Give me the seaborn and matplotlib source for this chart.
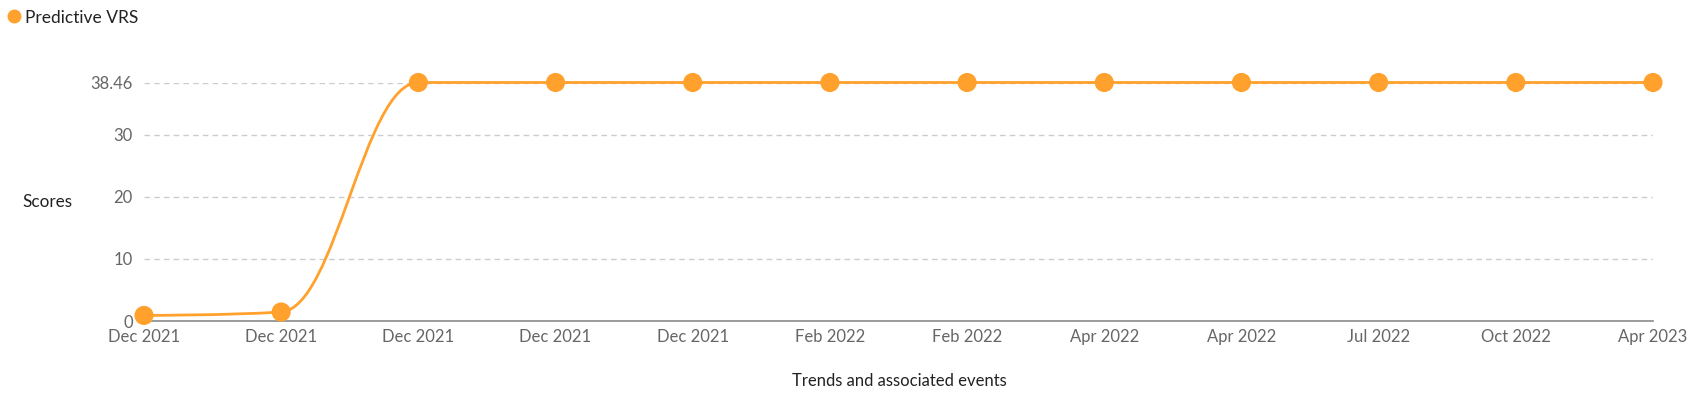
import numpy as np
import pandas as pd
import matplotlib
matplotlib.use("Agg")
import matplotlib.pyplot as plt
from matplotlib.path import Path
from matplotlib.patches import PathPatch
from matplotlib.lines import Line2D
import seaborn as sns

# ---- data ----
tick_labels = ["Dec 2021", "Dec 2021", "Dec 2021", "Dec 2021", "Dec 2021",
               "Feb 2022", "Feb 2022", "Apr 2022", "Apr 2022", "Jul 2022",
               "Oct 2022", "Apr 2023"]
scores = [0.9, 1.45, 38.46, 38.46, 38.46, 38.46, 38.46, 38.46, 38.46, 38.46, 38.46, 38.46]
series_name = "Predictive VRS"
y_ticks = [0, 10, 20, 30, 38.46]
y_tick_labels = ["0", "10", "20", "30", "38.46"]

ORANGE = "#FFA12C"
FONT = ["Lato", "DejaVu Sans"]

sns.set_theme(style="white")
plt.rcParams["font.family"] = FONT

df = pd.DataFrame({"pos": np.arange(len(scores)), "score": scores})

fig = plt.figure(figsize=(16.89, 3.93), dpi=100)
ax = fig.add_axes([144 / 1689, 72 / 393, 1509 / 1689, 238.5 / 393])


def spline_path(xs, ys, smoothing=1.5):
    """Highcharts-style spline control points."""
    n = len(xs)
    denom = smoothing + 1
    lc = [None] * n
    rc = [None] * n
    for i in range(1, n - 1):
        px, py = xs[i], ys[i]
        lx, ly = xs[i - 1], ys[i - 1]
        nx, ny = xs[i + 1], ys[i + 1]
        lcx = (smoothing * px + lx) / denom
        lcy = (smoothing * py + ly) / denom
        rcx = (smoothing * px + nx) / denom
        rcy = (smoothing * py + ny) / denom
        corr = 0
        if rcx != lcx:
            corr = (rcy - lcy) * (rcx - px) / (rcx - lcx) + py - rcy
        lcy += corr
        rcy += corr
        if lcy > ly and lcy > py:
            lcy = max(ly, py); rcy = 2 * py - lcy
        elif lcy < ly and lcy < py:
            lcy = min(ly, py); rcy = 2 * py - lcy
        if rcy > ny and rcy > py:
            rcy = max(ny, py); lcy = 2 * py - rcy
        elif rcy < ny and rcy < py:
            rcy = min(ny, py); lcy = 2 * py - rcy
        lc[i] = (lcx, lcy)
        rc[i] = (rcx, rcy)
    verts = [(xs[0], ys[0])]
    codes = [Path.MOVETO]
    for i in range(1, n):
        c1 = rc[i - 1] if rc[i - 1] is not None else (xs[i - 1], ys[i - 1])
        c2 = lc[i] if lc[i] is not None else (xs[i], ys[i])
        verts += [c1, c2, (xs[i], ys[i])]
        codes += [Path.CURVE4] * 3
    return Path(verts, codes)


# grid lines
for yt in y_ticks[1:]:
    ax.axhline(yt, color="#cccccc", lw=1, ls=(0, (4, 3)), zorder=1)

path = spline_path(list(df["pos"].astype(float)), list(df["score"]))
ax.add_patch(PathPatch(path, facecolor="none", edgecolor=ORANGE, lw=2, zorder=3, clip_on=False))

sns.scatterplot(data=df, x="pos", y="score", ax=ax, color=ORANGE, s=190,
                edgecolor="none", zorder=4, clip_on=False, legend=False)

ax.set_xlim(0, len(scores) - 1)
ax.set_ylim(0, 38.46)
ax.set_xticks(df["pos"])
ax.set_xticklabels(tick_labels)
ax.set_yticks(y_ticks)
ax.set_yticklabels(y_tick_labels)
ax.tick_params(axis="both", length=0, labelsize=12, labelcolor="#666666")
ax.tick_params(axis="y", pad=8)
ax.tick_params(axis="x", pad=6)
for lab in ax.get_xticklabels() + ax.get_yticklabels():
    lab.set_family(FONT)

for s in ["top", "right", "left"]:
    ax.spines[s].set_visible(False)
ax.spines["bottom"].set_color("#8a8a8a")
ax.spines["bottom"].set_linewidth(1.2)
ax.spines["bottom"].set_zorder(2)

ax.set_xlabel("")
ax.set_ylabel("")
fig.text(47 / 1689, 1 - 202 / 393, "Scores", ha="center", va="center",
         fontsize=12.3, color="#222222", family=FONT)
fig.text(899 / 1689, 1 - 381 / 393, "Trends and associated events", ha="center",
         va="center", fontsize=12, color="#222222", family=FONT)

# legend
handle = Line2D([], [], marker="o", color=ORANGE, linestyle="none", markersize=9)
fig.legend([handle], [series_name], loc="upper left", bbox_to_anchor=(-5 / 1689, 1.0),
           frameon=False, handletextpad=0.05, borderaxespad=0.15, handlelength=1.1,
           prop={"family": FONT, "size": 12.5}, labelcolor="#222222")

fig.savefig("out.png", dpi=100)
